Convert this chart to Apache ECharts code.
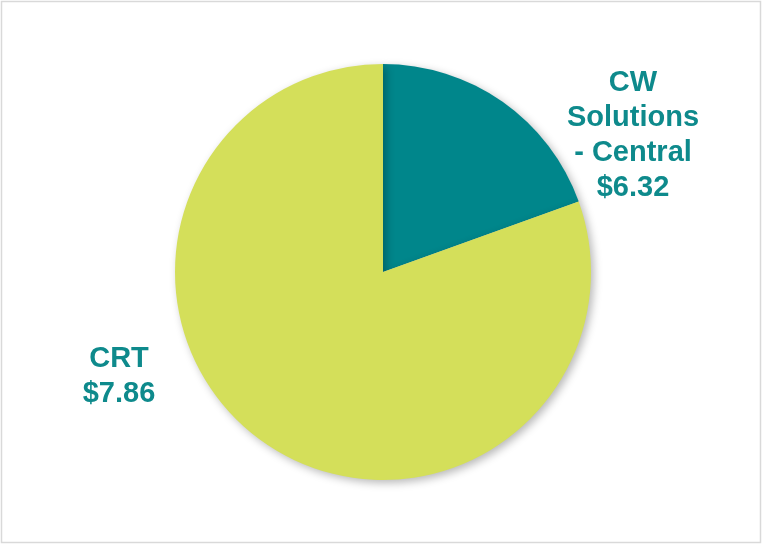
<!DOCTYPE html>
<html>
<head>
<meta charset="utf-8">
<script src="https://cdn.jsdelivr.net/npm/echarts@6/dist/echarts.min.js"></script>
<style>
  html, body { margin: 0; padding: 0; background: #ffffff; }
  #chart { width: 763px; height: 545px; }
</style>
</head>
<body>
<div id="chart"></div>
<script>
// Slice names, the share of the pie each one takes, and the dollar figure shown beside it
const names = ['CW\nSolutions\n- Central', 'CRT'];
const shares = [19.5, 80.5];
const amounts = ['$6.32', '$7.86'];
const colors = ['#00868B', '#D4DF5A'];

// Where each slice's label block is centred
const labelSpots = [[633, 135], [119, 376]];

const chart = echarts.init(document.getElementById('chart'), null, { renderer: 'canvas' });

chart.setOption({
  backgroundColor: '#ffffff',
  animation: false,
  graphic: [{
    type: 'rect',
    shape: { x: 1.5, y: 1.5, width: 759, height: 541 },
    style: { fill: 'none', stroke: '#d9d9d9', lineWidth: 1.5 },
    silent: true
  }],
  series: [{
    type: 'pie',
    center: [383, 272],
    radius: 208,
    startAngle: 90,
    clockwise: true,
    data: names.map((n, i) => ({
      name: n,
      value: shares[i],
      itemStyle: { color: colors[i] }
    })),
    itemStyle: {
      shadowBlur: 8,
      shadowColor: 'rgba(0,0,0,0.28)',
      shadowOffsetX: 3,
      shadowOffsetY: 3
    },
    label: {
      show: true,
      position: 'outside',
      formatter: p => p.name + '\n' + amounts[p.dataIndex],
      color: '#0E8A8C',
      fontFamily: '"Liberation Sans", Arial, sans-serif',
      fontWeight: 'bold',
      fontSize: 29,
      lineHeight: 35,
      align: 'center'
    },
    labelLine: { show: false },
    labelLayout: p => ({
      x: labelSpots[p.dataIndex][0],
      y: labelSpots[p.dataIndex][1],
      align: 'center',
      verticalAlign: 'middle'
    }),
    emphasis: { disabled: true }
  }]
});
</script>
</body>
</html>
